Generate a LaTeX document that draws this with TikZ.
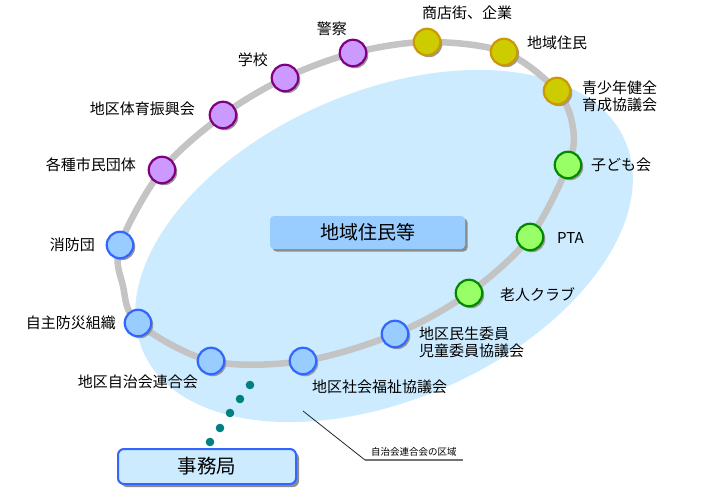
\documentclass[tikz,border=0pt]{standalone}
\usepackage{fontspec}
\setmainfont{Noto Sans CJK JP}
\usetikzlibrary{shadows}
\definecolor{blobc}{HTML}{CCEBFF}
\definecolor{ringc}{HTML}{C4C4C4}
\definecolor{purf}{HTML}{CC99FF}
\definecolor{purd}{HTML}{800080}
\definecolor{yelf}{HTML}{CCCC00}
\definecolor{yeld}{HTML}{CC9900}
\definecolor{grnf}{HTML}{99FF66}
\definecolor{grnd}{HTML}{008800}
\definecolor{bluf}{HTML}{99CCFF}
\definecolor{blud}{HTML}{3366FF}
\definecolor{tealc}{HTML}{008080}
\begin{document}
\begin{tikzpicture}[x=1pt,y=-1pt,
  orgc/.style={circle, minimum size=26.5pt, inner sep=0pt, line width=2.2pt,
    drop shadow={shadow xshift=2pt, shadow yshift=-2pt, fill=black!40, opacity=1}},
  purorg/.style={orgc, fill=purf, draw=purd},
  yelorg/.style={orgc, fill=yelf, draw=yeld},
  grnorg/.style={orgc, fill=grnf, draw=grnd},
  bluorg/.style={orgc, fill=bluf, draw=blud},
  lbl/.style={inner sep=0pt, font=\fontsize{15}{17}\selectfont, align=left},
  ring/.style={draw=ringc, line width=6.5pt},
  dotc/.style={fill=tealc}
]
\fill[white] (0,0) rectangle (710,495);
\useasboundingbox (0,0) rectangle (710,495);

% blob
\fill[blobc, rotate around={23.6:(384,246)}] (384,246) ellipse [x radius=263, y radius=154];

% ring coordinates
\coordinate (k1) at (120,245);
\coordinate (k2) at (162,170);
\coordinate (k3) at (223,115);
\coordinate (k4) at (285,78);
\coordinate (k5) at (353,53);
\coordinate (k6) at (427,42);
\coordinate (k7) at (504,52);
\coordinate (k8) at (557,91);
\coordinate (kx1) at (573,128);
\coordinate (k9) at (568,165);
\coordinate (k10) at (530,237);
\coordinate (k11) at (469,293);
\coordinate (k12) at (395,334);
\coordinate (k13) at (303,361);
\coordinate (k14) at (211,361);
\coordinate (k15) at (138,323);
\coordinate (kx2) at (123,286);

\draw[ring] plot[smooth cycle, tension=0.55] coordinates {(k1) (k2) (k3) (k4) (k5) (k6) (k7) (k8) (kx1) (k9) (k10) (k11) (k12) (k13) (k14) (k15) (kx2)};

% circles
\node[bluorg] (c1) at (k1) {};
\node[purorg] (c2) at (k2) {};
\node[purorg] (c3) at (k3) {};
\node[purorg] (c4) at (k4) {};
\node[purorg] (c5) at (k5) {};
\node[yelorg] (c6) at (k6) {};
\node[yelorg] (c7) at (k7) {};
\node[yelorg] (c8) at (k8) {};
\node[grnorg] (c9) at (k9) {};
\node[grnorg] (c10) at (k10) {};
\node[grnorg] (c11) at (k11) {};
\node[bluorg] (c12) at (k12) {};
\node[bluorg] (c13) at (k13) {};
\node[bluorg] (c14) at (k14) {};
\node[bluorg] (c15) at (k15) {};

% labels
\node[lbl, anchor=east] (l1) at (95,245) {消防団};
\node[lbl, anchor=east] (l2) at (136,165) {各種市民団体};
\node[lbl, anchor=east] (l3) at (195,109) {地区体育振興会};
\node[lbl, anchor=east] (l4) at (268,60) {学校};
\node[lbl, anchor=east] (l5) at (347,29) {警察};
\node[lbl, anchor=west] (l6) at (422,13) {商店街、企業};
\node[lbl, anchor=west] (l7) at (527,43) {地域住民};
\node[lbl, anchor=west] (l8) at (582,96) {青少年健全\\育成協議会};
\node[lbl, anchor=west] (l9) at (591,165) {子ども会};
\node[lbl, anchor=west] (l10) at (557,238) {PTA};
\node[lbl, anchor=west] (l11) at (500,295) {老人クラブ};
\node[lbl, anchor=west] (l12) at (419,342) {地区民生委員\\児童委員協議会};
\node[lbl, anchor=west] (l13) at (312,387) {地区社会福祉協議会};
\node[lbl, anchor=east] (l14) at (198,382) {地区自治会連合会};
\node[lbl, anchor=east] (l15) at (116,323) {自主防災組織};

% center box
\node[fill=bluf, rounded corners=4pt, minimum width=195pt, minimum height=33pt, inner sep=0pt,
  drop shadow={shadow xshift=2.5pt, shadow yshift=-2.5pt, fill=black!45, opacity=1},
  font=\fontsize{19}{22}\selectfont] (center) at (367.5,232.5) {地域住民等};

% office box
\node[fill=blobc, draw=blud, line width=2pt, rounded corners=6pt, minimum width=178pt, minimum height=35pt, inner sep=0pt,
  drop shadow={shadow xshift=3pt, shadow yshift=-3pt, fill=black!45, opacity=1},
  font=\fontsize{19.5}{22}\selectfont] (office) at (207,466.5) {事務局};

% dots
\fill[dotc] (250,385) circle (4.3);
\fill[dotc] (240,399) circle (4.3);
\fill[dotc] (230,413) circle (4.3);
\fill[dotc] (220,428) circle (4.3);
\fill[dotc] (210,442) circle (4.3);

% annotation
\coordinate (a0) at (303,411);
\coordinate (a1) at (365,460);
\coordinate (a2) at (463,460);
\draw[black!85, line width=0.8pt] (a0) -- (a1);
\draw[black!55, line width=1.2pt] (a1) -- (a2);
\node[inner sep=0pt, anchor=west, font=\fontsize{9.5}{11}\selectfont] (areal) at (371,452) {自治会連合会の区域};
\end{tikzpicture}
\end{document}
